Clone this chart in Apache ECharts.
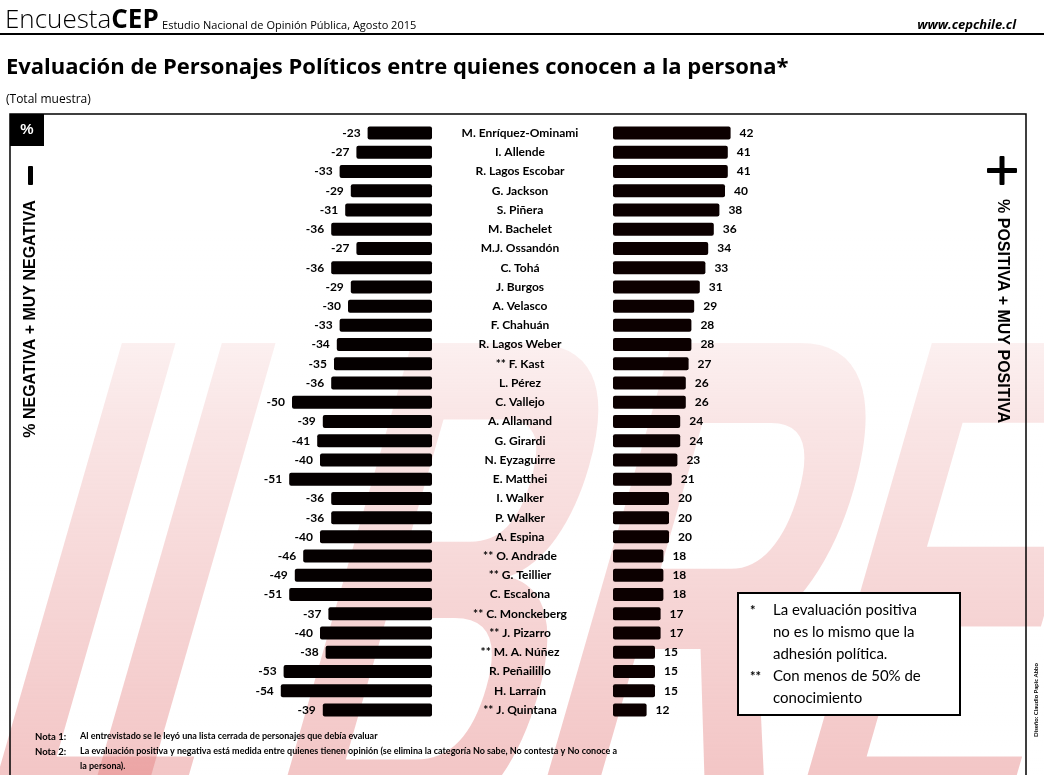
<!DOCTYPE html>
<html>
<head>
<meta charset="utf-8">
<script src="https://cdn.jsdelivr.net/npm/echarts@6/dist/echarts.min.js"></script>
<style>
  html, body { margin: 0; padding: 0; background: #fff; }
  #chart { width: 1044px; height: 775px; }
</style>
</head>
<body>
<div id="chart"></div>
<script>
// personajes, de arriba hacia abajo
const names = [
  'M. Enríquez-Ominami', 'I. Allende', 'R. Lagos Escobar', 'G. Jackson', 'S. Piñera',
  'M. Bachelet', 'M.J. Ossandón', 'C. Tohá', 'J. Burgos', 'A. Velasco',
  'F. Chahuán', 'R. Lagos Weber', '** F. Kast', 'L. Pérez', 'C. Vallejo',
  'A. Allamand', 'G. Girardi', 'N. Eyzaguirre', 'E. Matthei', 'I. Walker',
  'P. Walker', 'A. Espina', '** O. Andrade', '** G. Teillier', 'C. Escalona',
  '** C. Monckeberg', '** J. Pizarro', '** M. A. Núñez', 'R. Peñailillo', 'H. Larraín',
  '** J. Quintana'
];
// % negativa + muy negativa
const negative = [
  -23, -27, -33, -29, -31, -36, -27, -36, -29, -30,
  -33, -34, -35, -36, -50, -39, -41, -40, -51, -36,
  -36, -40, -46, -49, -51, -37, -40, -38, -53, -54,
  -39
];
// % positiva + muy positiva
const positive = [
  42, 41, 41, 40, 38, 36, 34, 33, 31, 29,
  28, 28, 27, 26, 26, 24, 24, 23, 21, 20,
  20, 20, 18, 18, 18, 17, 17, 15, 15, 15,
  12
];

const chart = echarts.init(document.getElementById('chart'));

const labelFont = { fontFamily: 'Lato', fontWeight: 'bold', fontSize: 12, color: '#000' };

// letras de la marca de agua
const wmLetters = [['L', 115], ['I', 215], ['B', 405], ['R', 665], ['E', 925]];
const watermark = wmLetters.map(([ch, x]) => ({
  type: 'text', x: x, y: 280, scaleX: 0.52, skewX: -0.28, z: -20, silent: true,
  style: { text: ch, font: 'bold 717px "Liberation Sans"', fill: 'rgba(226,120,120,0.42)' }
}));

const option = {
  animation: false,
  grid: [
    { left: 264, width: 168, top: 123.5, height: 596 },
    { left: 613, width: 168, top: 123.5, height: 596 }
  ],
  xAxis: [
    { gridIndex: 0, type: 'value', min: -60, max: 0, show: false },
    { gridIndex: 1, type: 'value', min: 0, max: 60, show: false }
  ],
  yAxis: [
    {
      gridIndex: 0, type: 'category', data: names, inverse: true, position: 'right',
      axisLine: { show: false }, axisTick: { show: false },
      axisLabel: Object.assign({ margin: 88, align: 'center', interval: 0 }, labelFont)
    },
    {
      gridIndex: 1, type: 'category', data: names, inverse: true, show: false
    }
  ],
  series: [
    {
      type: 'bar', xAxisIndex: 0, yAxisIndex: 0, data: negative, barWidth: 13,
      itemStyle: { color: '#050000', borderRadius: 2 },
      label: Object.assign({ show: true, position: 'left', distance: 7 }, labelFont)
    },
    {
      type: 'bar', xAxisIndex: 1, yAxisIndex: 1, data: positive, barWidth: 13,
      itemStyle: { color: '#0c0000', borderRadius: 2 },
      label: Object.assign({ show: true, position: 'right', distance: 9 }, labelFont)
    }
  ],
  graphic: watermark.concat([
    // difuminado de la marca de agua hacia arriba
    {
      type: 'rect', z: -15, silent: true, shape: { x: 0, y: 230, width: 1044, height: 545 },
      style: {
        fill: new echarts.graphic.LinearGradient(0, 0, 0, 1, [
          { offset: 0, color: 'rgba(255,255,255,1)' },
          { offset: 0.35, color: 'rgba(255,255,255,0.55)' },
          { offset: 1, color: 'rgba(255,255,255,0)' }
        ])
      }
    },
    // encabezado
    {
      type: 'text', left: 5, top: 8,
      style: {
        text: '{a|Encuesta}{b|CEP} {c|Estudio Nacional de Opinión Pública, Agosto 2015}',
        rich: {
          a: { fontFamily: 'Open Sans', fontWeight: 300, fontSize: 26, fill: '#000' },
          b: { fontFamily: 'Open Sans', fontWeight: 'bold', fontSize: 26, fill: '#000' },
          c: { fontFamily: 'Open Sans', fontSize: 11, fill: '#000', verticalAlign: 'bottom', padding: [0, 0, 3, 0] }
        }
      }
    },
    {
      type: 'text', right: 28, top: 19,
      style: { text: 'www.cepchile.cl', font: 'italic bold 13px "Open Sans"', fill: '#000' }
    },
    { type: 'line', shape: { x1: 0, y1: 34, x2: 1044, y2: 34 }, style: { stroke: '#000', lineWidth: 2 } },
    {
      type: 'text', left: 6, top: 57,
      style: { text: 'Evaluación de Personajes Políticos entre quienes conocen a la persona*', font: 'bold 22px "Open Sans"', fill: '#000' }
    },
    {
      type: 'text', left: 6, top: 94,
      style: { text: '(Total muestra)', font: '12px "Open Sans"', fill: '#000' }
    },
    // marco
    {
      type: 'polyline', shape: { points: [[10, 790], [10, 114], [1026, 114], [1026, 790]] },
      style: { stroke: '#000', lineWidth: 1.5, fill: null }
    },
    { type: 'rect', shape: { x: 10, y: 114, width: 34, height: 32 }, style: { fill: '#000' } },
    {
      type: 'text', x: 27, y: 130,
      style: { text: '%', font: 'bold 15px "Liberation Sans"', fill: '#fff', align: 'center', verticalAlign: 'middle' }
    },
    // lado negativo
    { type: 'rect', shape: { x: 28, y: 166, width: 5, height: 19, r: 1 }, style: { fill: '#000' } },
    {
      type: 'text', x: 31, y: 319, rotation: Math.PI / 2,
      style: { text: '% NEGATIVA + MUY NEGATIVA', font: 'bold 16px "Liberation Sans"', fill: '#000', align: 'center', verticalAlign: 'middle' }
    },
    // lado positivo
    { type: 'rect', shape: { x: 987, y: 168, width: 30, height: 5, r: 1 }, style: { fill: '#000' } },
    { type: 'rect', shape: { x: 999.5, y: 156, width: 5, height: 29, r: 1 }, style: { fill: '#000' } },
    {
      type: 'text', x: 1002, y: 311, rotation: -Math.PI / 2,
      style: { text: '% POSITIVA + MUY POSITIVA', font: 'bold 16px "Liberation Sans"', fill: '#000', align: 'center', verticalAlign: 'middle' }
    },
    // nota
    {
      type: 'rect', shape: { x: 738, y: 593, width: 222, height: 122 },
      style: { fill: '#fff', stroke: '#000', lineWidth: 2 }
    },
    {
      type: 'text', left: 750, top: 600,
      style: {
        text: '*\n\n\n**', font: 'bold 13px "Lato"', fill: '#000', lineHeight: 22
      }
    },
    {
      type: 'text', left: 773, top: 599,
      style: {
        text: 'La evaluación positiva\nno es lo mismo que la\nadhesión política.\nCon menos de 50% de\nconocimiento',
        font: '15px "Lato"', fill: '#000', lineHeight: 22
      }
    },
    // notas al pie
    {
      type: 'text', left: 35, top: 729,
      style: { text: 'Nota 1:\nNota 2:', font: 'bold 9.5px "Lato"', fill: '#000', lineHeight: 15 }
    },
    {
      type: 'text', left: 80, top: 729,
      style: {
        text: 'Al entrevistado se le leyó una lista cerrada de personajes que debía evaluar\nLa evaluación positiva y negativa está medida entre quienes tienen opinión (se elimina la categoría No sabe, No contesta y No conoce a\nla persona).',
        font: 'bold 9px "Lato"', fill: '#000', lineHeight: 15
      }
    },
    {
      type: 'text', x: 1036, y: 700, rotation: Math.PI / 2,
      style: { text: 'Diseño: Claudio Papic Abbo', font: 'bold 6px "Lato"', fill: '#000', align: 'center', verticalAlign: 'middle' }
    }
  ])
};

chart.setOption(option);
window.addEventListener('resize', () => chart.resize());
</script>
</body>
</html>
